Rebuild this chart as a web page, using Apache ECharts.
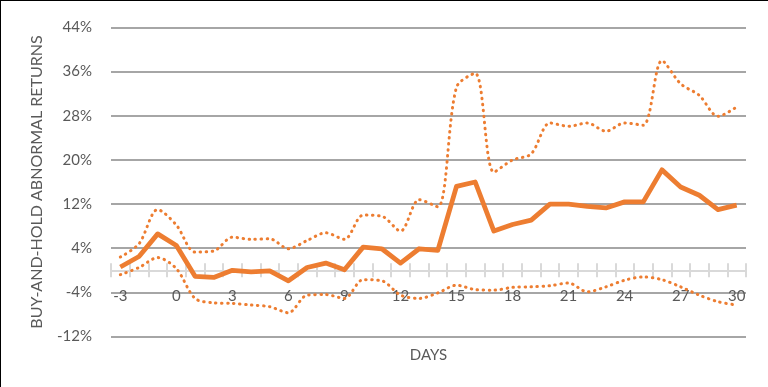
<!DOCTYPE html>
<html>
<head>
<meta charset="utf-8">
<script src="https://cdn.jsdelivr.net/npm/echarts@6/dist/echarts.min.js"></script>
<style>
html,body{margin:0;padding:0;background:#fff;}
#chart{width:768px;height:387px;}
</style>
</head>
<body>
<div id="chart"></div>
<script>
const days = [-3,-2,-1,0,1,2,3,4,5,6,7,8,9,10,11,12,13,14,15,16,17,18,19,20,21,22,23,24,25,26,27,28,29,30];
const meanBHAR = [0.6,2.5,6.6,4.5,-1.1,-1.3,0.0,-0.3,-0.1,-1.9,0.5,1.3,0.1,4.2,3.9,1.3,3.9,3.6,15.2,16.0,7.1,8.3,9.1,12.0,12.0,11.6,11.3,12.4,12.4,18.2,15.1,13.6,11.0,11.8];
const upperBound = [2.4,4.8,11.0,8.2,3.3,3.5,6.0,5.6,5.7,3.9,5.4,6.8,5.6,10.0,9.8,7.1,12.8,11.5,33.2,35.7,17.8,20.0,21.1,26.7,26.1,26.7,25.2,26.7,26.3,38.0,33.8,31.7,27.9,29.6];
const lowerBound = [-0.8,0.5,2.3,0.3,-5.1,-5.9,-6.0,-6.3,-6.6,-7.7,-4.5,-4.4,-5.1,-1.7,-1.9,-4.5,-5.1,-4.1,-2.7,-3.5,-3.6,-3.1,-3.0,-2.8,-2.3,-3.9,-3.0,-1.8,-1.2,-1.7,-3.0,-4.5,-5.7,-6.3];
const yMin = -12, yMax = 44, yStep = 8;

const font = 'Lato, "Open Sans", sans-serif';
const orange = '#ED7D31';
const chart = echarts.init(document.getElementById('chart'), null, {renderer:'canvas'});
const option = {
  animation:false,
  grid:{left:111, right:22, top:27.5, bottom:50.5, outerBoundsMode:'none', containLabel:false},
  graphic:[
    {type:'line', shape:{x1:0.5,y1:0,x2:0.5,y2:387}, style:{stroke:'#000',lineWidth:1}, silent:true},
    {type:'line', shape:{x1:0,y1:0.5,x2:768,y2:0.5}, style:{stroke:'#000',lineWidth:1}, silent:true}
  ],
  xAxis:[{
    type:'category', data:days, boundaryGap:true, position:'bottom',
    axisLine:{onZero:false, lineStyle:{color:'#d9d9d9', width:2}},
    axisTick:{show:true, length:7, inside:false, interval:0, lineStyle:{color:'#d9d9d9', width:2}},
    axisLabel:{interval:2, margin:18, color:'#595959', fontSize:15, fontFamily:font},
    name:'DAYS', nameLocation:'middle', nameGap:77,
    nameTextStyle:{color:'#595959', fontSize:15, fontFamily:font},
    splitLine:{show:false}
  },{
    type:'category', data:days, boundaryGap:true, position:'bottom',
    axisLine:{onZero:false, show:false},
    axisTick:{show:true, length:7, inside:true, interval:0, lineStyle:{color:'#d9d9d9', width:2}},
    axisLabel:{show:false}, splitLine:{show:false}
  }],
  yAxis:{
    type:'value', min:yMin, max:yMax, interval:yStep,
    axisLine:{show:false, onZero:false}, axisTick:{show:false},
    axisLabel:{formatter:v=>v+'%', color:'#595959', fontSize:15, fontFamily:font, margin:19},
    splitLine:{lineStyle:{color:'#a6a6a6', width:2}},
    name:'BUY-AND-HOLD ABNORMAL RETURNS', nameLocation:'middle', nameGap:66,
    nameTextStyle:{color:'#595959', fontSize:16, fontFamily:font}
  },
  series:[
    {name:'Upper', type:'line', data:upperBound, smooth:0.3, symbol:'none',
     lineStyle:{color:orange, width:3, type:[0.5,5.5], cap:'round'}},
    {name:'Lower', type:'line', data:lowerBound, smooth:0.3, symbol:'none',
     lineStyle:{color:orange, width:3, type:[0.5,5.5], cap:'round'}},
    {name:'BHAR', type:'line', data:meanBHAR, symbol:'none',
     lineStyle:{color:orange, width:4.8, cap:'butt', join:'round'}}
  ]
};
chart.setOption(option);
// place the category axis on the zero line of the value axis
const yZero = chart.convertToPixel({yAxisIndex:0}, 0);
const yBottom = chart.convertToPixel({yAxisIndex:0}, yMin);
const off = yZero - yBottom;
chart.setOption({xAxis:[{offset:off}, {offset:off}]});
</script>
</body>
</html>
